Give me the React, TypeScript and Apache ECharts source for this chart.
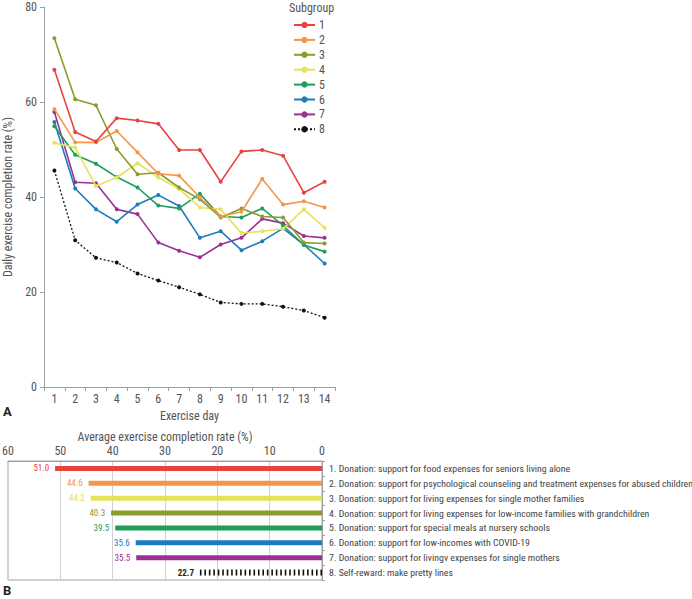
import React, { useEffect, useRef } from "react";
import * as echarts from "echarts";

const days = ["1", "2", "3", "4", "5", "6", "7", "8", "9", "10", "11", "12", "13", "14"];
const subgroupNames = ["1", "2", "3", "4", "5", "6", "7", "8"];
const lineColors = ["#e8423f", "#f5954a", "#8b9c2f", "#e6e25a", "#1f9d5b", "#1c7cbf", "#9a3192", "#111111"];

const s1 = [66.8, 53.7, 51.7, 56.6, 56.1, 55.4, 49.9, 49.9, 43.2, 49.6, 49.9, 48.7, 40.9, 43.2];
const s2 = [58.5, 51.5, 51.5, 53.9, 49.4, 44.9, 44.5, 39.9, 35.9, 36.9, 43.8, 38.4, 39.1, 37.8];
const s3 = [73.4, 60.6, 59.3, 50.1, 44.8, 45.1, 42.0, 39.5, 35.7, 37.6, 35.9, 35.7, 30.4, 30.2];
const s4 = [51.4, 50.4, 42.3, 44.1, 47.1, 44.1, 41.7, 37.8, 37.4, 32.4, 32.8, 33.3, 37.4, 33.5];
const s5 = [54.9, 48.9, 47.0, 44.2, 42.0, 38.2, 37.6, 40.7, 35.9, 35.7, 37.6, 34.0, 29.9, 28.5];
const s6 = [55.8, 41.8, 37.4, 34.8, 38.4, 40.4, 38.1, 31.4, 32.8, 28.8, 30.7, 33.4, 30.0, 26.0];
const s7 = [57.9, 43.1, 42.9, 37.4, 36.4, 30.4, 28.7, 27.3, 30.0, 31.4, 35.4, 34.5, 31.8, 31.4];
const s8 = [45.6, 30.9, 27.2, 26.2, 23.9, 22.4, 21.0, 19.5, 17.8, 17.5, 17.5, 16.9, 16.1, 14.6];
const lineSeries = [s1, s2, s3, s4, s5, s6, s7, s8];

const barCategories = [
  "1. Donation: support for food expenses for seniors living alone",
  "2. Donation: support for psychological counseling and treatment expenses for abused children",
  "3. Donation: support for living expenses for single mother families",
  "4. Donation: support for living expenses for low-income families with grandchildren",
  "5. Donation: support for special meals at nursery schools",
  "6. Donation: support for low-incomes with COVID-19",
  "7. Donation: support for livingv expenses for single mothers",
  "8. Self-reward: make pretty lines",
];
const barValues = [51.0, 44.6, 44.2, 40.3, 39.5, 35.6, 35.5, 22.7];
const barColors = ["#e8423f", "#f5954a", "#e6e25a", "#8b9c2f", "#1f9d5b", "#1c7cbf", "#9a3192", "#111111"];

const FONT = '"Liberation Sans Narrow", "Roboto Condensed", "Arial Narrow", Roboto, sans-serif';
const TXT = "#555";
const AX = "#a0a0a0";

export default function App() {
  const ref = useRef<HTMLDivElement>(null);
  useEffect(() => {
    if (!ref.current) return;
    const chart = echarts.init(ref.current, undefined, { renderer: "svg" });

    const series: any[] = lineSeries.map((d, i) => ({
      name: subgroupNames[i],
      type: "line",
      xAxisIndex: 0,
      yAxisIndex: 0,
      data: d,
      symbol: "circle",
      symbolSize: 4,
      showSymbol: true,
      color: lineColors[i],
      lineStyle: { width: i === 7 ? 1.3 : 1.6, color: lineColors[i], type: i === 7 ? [2, 2] : "solid" },
      itemStyle: { color: lineColors[i] },
      z: 10 - i,
    }));

    series.push({
      type: "bar",
      xAxisIndex: 1,
      yAxisIndex: 1,
      barWidth: 5,
      data: barValues.map((v, i) =>
        i === 7
          ? "-"
          : {
              value: v,
              itemStyle: { color: barColors[i] },
              label: { color: barColors[i] },
            }
      ),
      label: {
        show: true,
        position: "left",
        distance: 6,
        fontSize: 9,
        fontFamily: FONT,
        formatter: (p: any) => Number(p.value).toFixed(1),
      },
    });

    series.push({
      type: "pictorialBar",
      xAxisIndex: 1,
      yAxisIndex: 1,
      symbol: "rect",
      symbolRepeat: true,
      symbolSize: [1.5, 6],
      symbolMargin: 1.5,
      itemStyle: { color: "#111" },
      data: barValues.map((v, i) => (i === 7 ? v : "-")),
      label: {
        show: true,
        position: "left",
        distance: 6,
        fontSize: 9,
        fontWeight: "bold",
        color: "#222",
        fontFamily: FONT,
        formatter: (p: any) => Number(p.value).toFixed(1),
      },
    });

    chart.setOption({
      animation: false,
      textStyle: { fontFamily: FONT },
      grid: [
        { left: 44, top: 7, width: 291, height: 380, containLabel: false, outerBoundsMode: "none" },
        {
          left: 8,
          top: 461,
          width: 314,
          height: 119,
          show: true,
          borderColor: AX,
          borderWidth: 1,
          containLabel: false,
          outerBoundsMode: "none",
        },
      ],
      legend: {
        orient: "vertical",
        left: 293,
        top: 19,
        itemWidth: 21,
        itemHeight: 8,
        itemGap: 2.9,
        data: subgroupNames,
        textStyle: { fontSize: 12, color: TXT, fontFamily: FONT, padding: [0, 0, 0, -1] },
        padding: 0,
      },
      xAxis: [
        {
          type: "category",
          gridIndex: 0,
          data: days,
          boundaryGap: true,
          name: "Exercise day",
          nameLocation: "middle",
          nameGap: 19,
          nameTextStyle: { fontSize: 12, color: TXT, fontFamily: FONT },
          axisLine: { show: true, lineStyle: { color: AX } },
          axisTick: { show: true, length: 4, lineStyle: { color: AX } },
          axisLabel: { fontSize: 12, color: TXT, margin: 6, fontFamily: FONT },
          splitLine: { show: false },
        },
        {
          type: "value",
          gridIndex: 1,
          position: "top",
          inverse: true,
          min: 0,
          max: 60,
          interval: 10,
          name: "Average exercise completion rate (%)",
          nameLocation: "middle",
          nameGap: 18,
          nameTextStyle: { fontSize: 12, color: TXT, fontFamily: FONT },
          axisLine: { show: true, lineStyle: { color: AX } },
          axisTick: { show: false },
          axisLabel: { fontSize: 12, color: TXT, margin: 4, fontFamily: FONT },
          splitLine: { show: true, lineStyle: { color: "#d0d0d0", width: 1 } },
        },
      ],
      yAxis: [
        {
          type: "value",
          gridIndex: 0,
          min: 0,
          max: 80,
          interval: 20,
          name: "Daily exercise completion rate (%)",
          nameLocation: "middle",
          nameGap: 30,
          nameTextStyle: { fontSize: 12, color: TXT, fontFamily: FONT },
          axisLine: { show: true, lineStyle: { color: AX } },
          axisTick: { show: true, length: 4, lineStyle: { color: AX } },
          axisLabel: { fontSize: 12, color: TXT, margin: 7, fontFamily: FONT },
          splitLine: { show: false },
        },
        {
          type: "category",
          gridIndex: 1,
          position: "right",
          inverse: true,
          data: barCategories,
          axisLine: { show: true, lineStyle: { color: AX } },
          axisTick: { show: true, length: 3, inside: false, lineStyle: { color: AX } },
          axisLabel: {
            fontSize: 9.8,
            color: "#444",
            margin: 7,
            align: "left",
            fontFamily: FONT,
            overflow: "none",
            width: 400,
          },
          splitLine: { show: false },
        },
      ],
      graphic: [
        {
          type: "text",
          left: 289,
          top: 2,
          style: { text: "Subgroup", fontSize: 12, fill: TXT, fontFamily: FONT },
        },
        {
          type: "text",
          left: 3,
          top: 405,
          style: { text: "A", fontSize: 13, fontWeight: "bold", fill: "#222", fontFamily: "Roboto, sans-serif" },
        },
        {
          type: "text",
          left: 3,
          top: 584,
          style: { text: "B", fontSize: 13, fontWeight: "bold", fill: "#222", fontFamily: "Roboto, sans-serif" },
        },
      ],
      series,
    });

    return () => chart.dispose();
  }, []);

  return (
    <div
      ref={ref}
      style={{ position: "fixed", left: 0, top: 0, width: 692, height: 599, background: "#fff" }}
    />
  );
}
